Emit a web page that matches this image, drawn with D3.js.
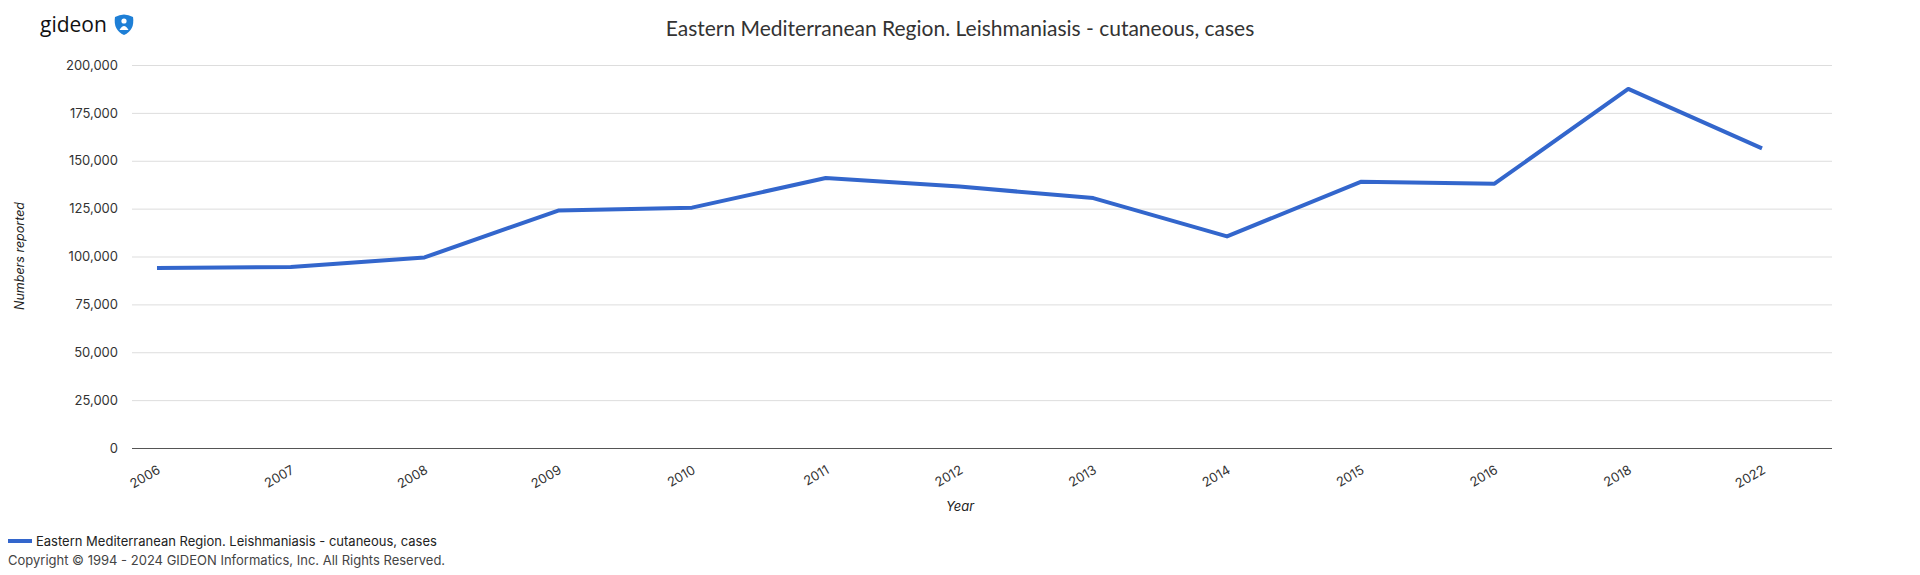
<!DOCTYPE html>
<html><head><meta charset="utf-8">
<script src="https://cdn.jsdelivr.net/npm/d3@7"></script>
<style>body{margin:0;background:#fff;font-family:Inter,"Noto Sans",sans-serif}</style>
</head><body><svg id="c" width="1920" height="575"></svg>
<script>
const years=["2006","2007","2008","2009","2010","2011","2012","2013","2014","2015","2016","2018","2022"];
const cases=[94000,94500,99500,124000,125500,141000,136500,130500,110500,139000,138000,187500,156500];
const yTicks=[0,25000,50000,75000,100000,125000,150000,175000,200000];
const seriesName="Eastern Mediterranean Region. Leishmaniasis - cutaneous, cases";

const svg=d3.select("#c");
const L=132,R=1832,T=65,B=448;
const x=d3.scalePoint().domain(years).range([157,1762]);
const y=d3.scaleLinear().domain([0,200000]).range([B,T]);

const ga=svg.append("g").attr("transform",`translate(${L},0)`)
 .call(d3.axisLeft(y).tickValues(yTicks).tickSize(-(R-L)).tickPadding(14).tickFormat(d3.format(",")));
ga.select(".domain").remove();
ga.selectAll(".tick line").attr("stroke",d=>d===0?"#555":"#ddd");
ga.selectAll("text").attr("font-size",13).attr("fill","#333").attr("font-family","Inter,sans-serif");

const gx=svg.append("g").attr("transform",`translate(0,${B})`).call(d3.axisBottom(x).tickSize(0));
gx.select(".domain").remove();
gx.selectAll("text").attr("font-size",13).attr("fill","#333").attr("font-family","Inter,sans-serif")
 .attr("text-anchor","end").attr("transform","translate(0,18) rotate(-30)").attr("dy","0.35em");

svg.append("path").datum(cases).attr("fill","none").attr("stroke","#3366cc").attr("stroke-width",4)
 .attr("stroke-linejoin","round")
 .attr("d",d3.line().x((d,i)=>x(years[i])).y(d=>y(d)));

svg.append("text").attr("x",960).attr("y",36).attr("text-anchor","middle").attr("font-size",21)
 .attr("font-family","Lato,sans-serif").attr("fill","#333").text(seriesName);
svg.append("text").attr("transform","translate(24,256) rotate(-90)").attr("text-anchor","middle")
 .attr("font-size",12.5).attr("font-style","italic").attr("fill","#222").text("Numbers reported");
svg.append("text").attr("x",960).attr("y",511).attr("text-anchor","middle")
 .attr("font-size",13).attr("font-style","italic").attr("fill","#222").text("Year");

svg.append("rect").attr("x",8).attr("y",539).attr("width",24).attr("height",4).attr("fill","#3366cc");
svg.append("text").attr("x",36).attr("y",546).attr("font-size",13).attr("fill","#222").text(seriesName);
svg.append("text").attr("x",8).attr("y",565).attr("font-size",13).attr("fill","#444")
 .text("Copyright © 1994 - 2024 GIDEON Informatics, Inc. All Rights Reserved.");

svg.append("text").attr("x",40).attr("y",32).attr("font-size",21).attr("font-family","Open Sans,sans-serif").attr("fill","#111").text("gideon");
const lg=svg.append("g").attr("transform","translate(124,24)");
lg.append("path").attr("d","M-9,-7 Q0,-12 9,-7 Q11,6 0,11 Q-11,6 -9,-7Z").attr("fill","#1e7fd6");
lg.append("circle").attr("cx",0).attr("cy",-3).attr("r",2.6).attr("fill","#fff");
lg.append("path").attr("d","M-4.5,6 Q0,-2 4.5,6Z").attr("fill","#fff");
</script></body></html>
